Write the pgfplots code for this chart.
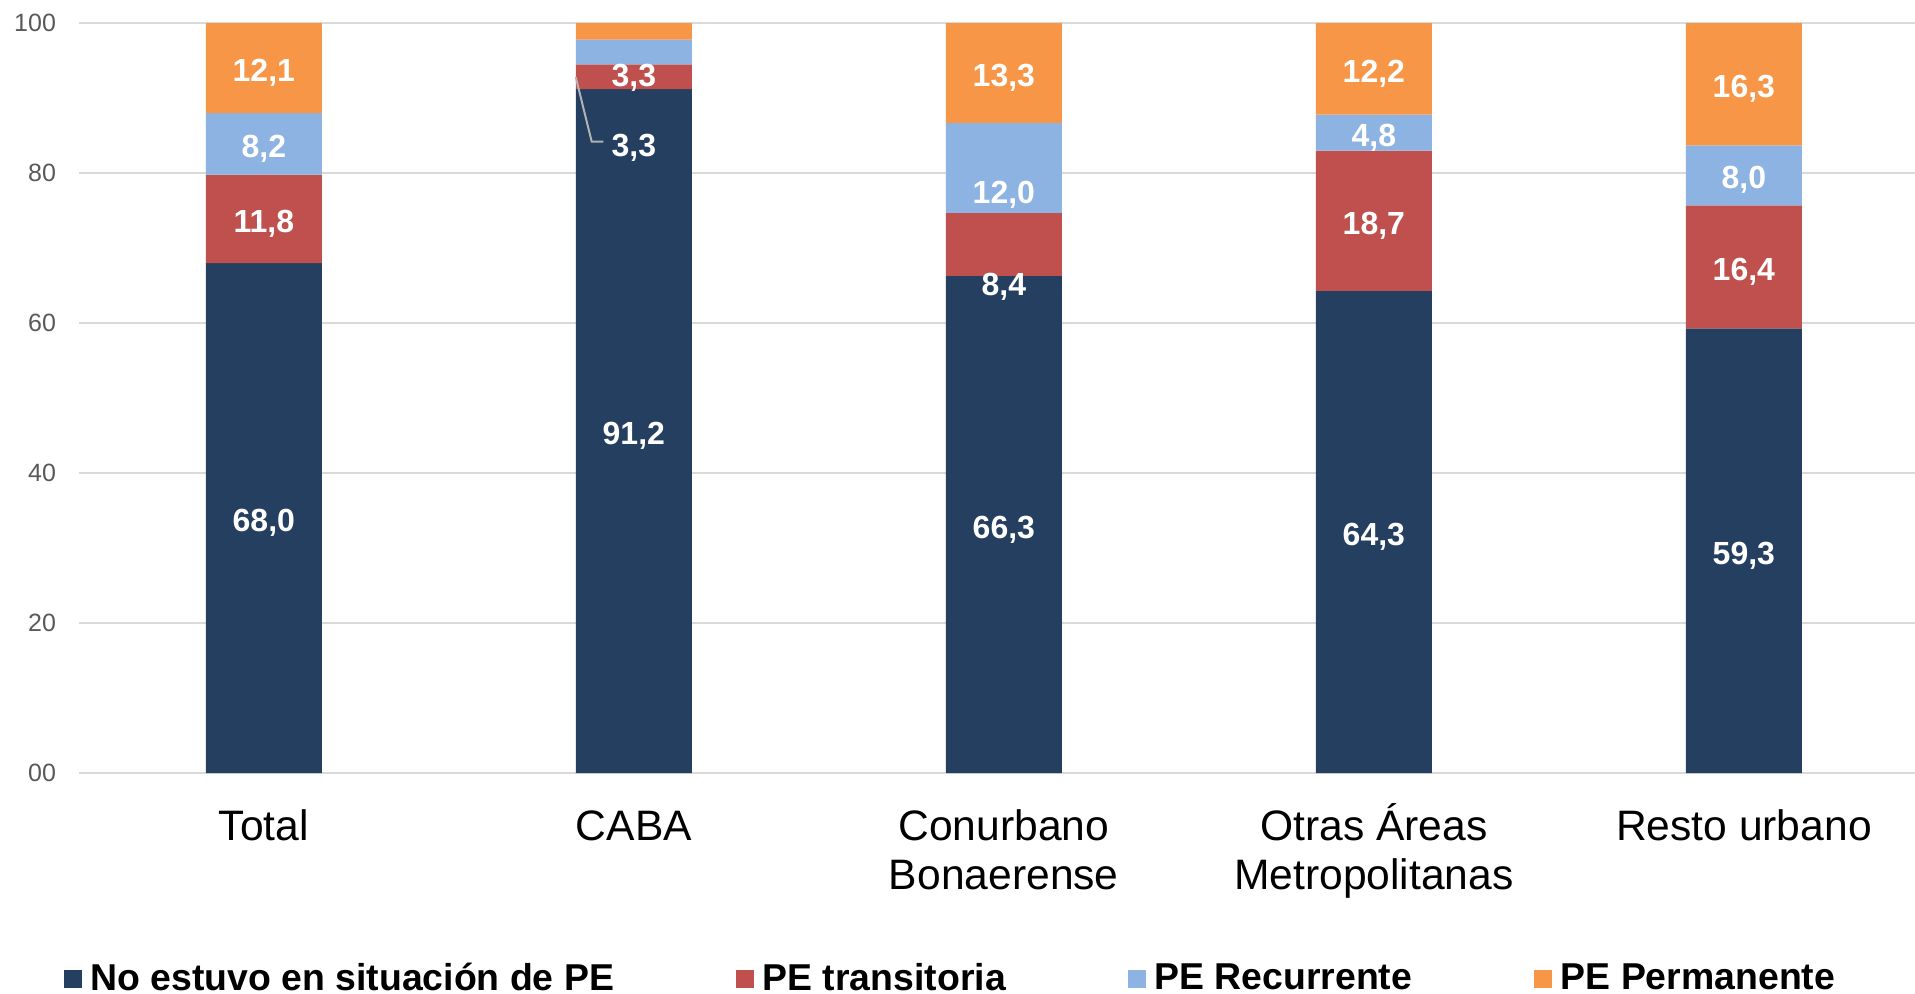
\documentclass[border=0pt]{standalone}
\usepackage{fontspec}
\setmainfont{Liberation Sans}
\usepackage{pgfplots}
\pgfplotsset{compat=1.18}

\definecolor{cNo}{HTML}{243F60}
\definecolor{cTr}{HTML}{C0504D}
\definecolor{cRe}{HTML}{8DB3E2}
\definecolor{cPe}{HTML}{F79646}
\definecolor{cGrid}{HTML}{D9D9D9}
\definecolor{cTick}{HTML}{595959}

\tikzset{lab/.style={text=white, yshift=-2.5pt, font=\fontsize{16}{18}\selectfont\bfseries}}
\pgfplotsset{sq legend/.style={legend image code/.code={\fill[##1] (0pt,-4.5pt) rectangle (9pt,4.5pt);}}}
\newcommand{\st}{\rule{0pt}{22pt}}

\begin{document}
\begin{tikzpicture}
\useasboundingbox (-39.5pt,-110pt) rectangle (918pt,386.5pt);
\begin{axis}[
    at={(0,0)}, anchor=south west,
    scale only axis, width=918pt, height=375pt,
    ybar stacked, reverse stacked plots=false, bar width=0.3135,
    xmin=-0.4995, xmax=4.4625, ymin=0, ymax=100,
    xtick={0,1,2,3,4},
    xticklabels={\st Total, \st CABA, \st Conurbano\\Bonaerense, \st Otras Áreas\\Metropolitanas, \st Resto urbano},
    ytick={0,20,40,60,80,100},
    yticklabels={00,20,40,60,80,100},
    axis line style={draw=none},
    major tick style={draw=none},
    ymajorgrids, grid style={cGrid, line width=1pt},
    yticklabel style={font=\fontsize{12.5}{15}\selectfont, text=cTick, xshift=-8pt},
    xticklabel style={font=\fontsize{21.3}{24.5}\selectfont, align=center, anchor=north, yshift=-8.3pt},
    legend columns=4,
    legend style={at={(0.4752,-0.274)}, anchor=center, draw=none, fill=none,
        font=\fontsize{18.7}{22}\selectfont\bfseries,
        nodes={inner ysep=1pt},
        /tikz/every odd column/.append style={column sep=2.3pt},
        /tikz/every even column/.append style={column sep=59pt}},
]
\addplot[fill=cNo, draw=none, sq legend] coordinates {(0,68.0) (1,91.2) (2,66.3) (3,64.3) (4,59.3)};
\addplot[fill=cTr, draw=none, sq legend] coordinates {(0,11.8) (1,3.3) (2,8.4) (3,18.7) (4,16.4)};
\addplot[fill=cRe, draw=none, sq legend] coordinates {(0,8.2) (1,3.3) (2,12.0) (3,4.8) (4,8.0)};
\addplot[fill=cPe, draw=none, sq legend] coordinates {(0,12.1) (1,2.2) (2,13.3) (3,12.2) (4,16.3)};
\legend{No estuvo en situación de PE, PE transitoria, PE Recurrente, PE Permanente}

% leader line for the CABA "PE Recurrente" label
\draw[gray!60, line width=1pt] (axis cs:0.843,92.8) -- (axis cs:0.886,84.2) -- (axis cs:0.9175,84.2);

% Total
\node[lab] at (axis cs:0,34.0) {68,0};
\node[lab] at (axis cs:0,73.9) {11,8};
\node[lab] at (axis cs:0,83.9) {8,2};
\node[lab] at (axis cs:0,94.0) {12,1};
% CABA
\node[lab] at (axis cs:1,45.6) {91,2};
\node[lab] at (axis cs:1,93.3) {3,3};
\node[lab] at (axis cs:1,84.0) {3,3};
% Conurbano
\node[lab] at (axis cs:2,33.15) {66,3};
\node[lab] at (axis cs:2,65.5) {8,4};
\node[lab] at (axis cs:2,77.7) {12,0};
\node[lab] at (axis cs:2,93.3) {13,3};
% Otras
\node[lab] at (axis cs:3,32.15) {64,3};
\node[lab] at (axis cs:3,73.65) {18,7};
\node[lab] at (axis cs:3,85.4) {4,8};
\node[lab] at (axis cs:3,93.9) {12,2};
% Resto
\node[lab] at (axis cs:4,29.65) {59,3};
\node[lab] at (axis cs:4,67.5) {16,4};
\node[lab] at (axis cs:4,79.7) {8,0};
\node[lab] at (axis cs:4,91.85) {16,3};
\end{axis}
\end{tikzpicture}
\end{document}
